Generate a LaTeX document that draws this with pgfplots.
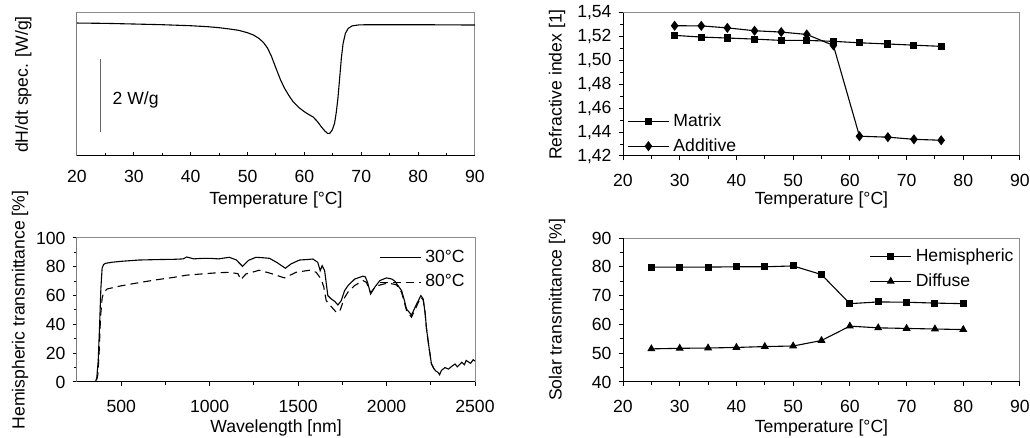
\documentclass[border=0pt]{standalone}
\usepackage{fontspec}
\setmainfont{Liberation Sans}
\usepackage{pgfplots}
\pgfplotsset{compat=1.18}
\pgfplotsset{
  longleg/.style={legend image code/.code={\draw[mark repeat=2,mark phase=2,##1] plot coordinates {(0cm,0cm) (0.36cm,0cm) (0.72cm,0cm)};}},
  myax/.style={
    scale only axis, anchor=south west,
    font=\fontsize{8.8}{10}\selectfont,
    /pgf/number format/assume math mode=true,
    /pgf/number format/set thousands separator={},
    axis line style={black!45, line width=0.5pt},
    tick style={black, line width=0.5pt},
    major tick length=2.2pt, minor tick length=1.3pt,
    xtick pos=bottom, ytick pos=left, tick align=outside,
    xticklabel style={yshift=-3.5pt},
    ylabel style={at={(axis description cs:-0.166,0.5)}, anchor=center},
    xlabel style={at={(axis description cs:0.5,-0.31)}, anchor=center},
    legend style={draw=none, fill=none, font=\fontsize{8.8}{10}\selectfont, row sep=0.6pt},
    legend cell align=left,
    every axis plot/.append style={line width=0.55pt, black},
  },
}
\begin{document}
\begin{tikzpicture}
\useasboundingbox (0pt,0pt) rectangle (515pt,-219pt);

% ---------- top left: DSC ----------
\begin{axis}[myax, at={(38.5pt,-78pt)}, width=199pt, height=71.5pt,
  xmin=20, xmax=90, ymin=0, ymax=3.945,
  xtick={20,30,...,90}, minor x tick num=1, ytick=\empty,
  tick align=inside,
  xlabel={Temperature [°C]},
  ylabel={dH/dt spec. [W/g]},
  ylabel style={at={(axis description cs:-0.135,0.5)}, anchor=center},
]
\addplot[black!60, line width=0.5pt] coordinates {(24.2,0.673) (24.2,2.673)};
\addplot[black, no marks] coordinates {
(20,3.668)(25,3.659)(30,3.641)(35,3.622)(40,3.594)(43,3.567)(45,3.539)(47,3.50)(48.5,3.465)(50,3.40)(51,3.34)(52,3.245)(52.8,3.13)(53.5,2.98)(54.2,2.75)(55,2.42)(55.8,2.10)(56.5,1.87)(57.3,1.66)(58,1.50)(59,1.34)(60,1.22)(60.7,1.15)(61.5,1.08)(62.3,0.95)(63,0.80)(63.6,0.69)(64.1,0.62)(64.5,0.63)(64.9,0.72)(65.3,0.90)(65.6,1.20)(65.9,1.60)(66.2,2.15)(66.5,2.70)(66.8,3.10)(67.2,3.38)(67.7,3.52)(68.4,3.59)(69.5,3.615)(71,3.622)(80,3.622)(90,3.613)
};
\node[anchor=west, inner sep=0pt] at (axis cs:26.2,1.55) {2 W/g};
\draw[black, line width=0.5pt] (rel axis cs:0,1) -- (rel axis cs:0,0) -- (rel axis cs:1,0);
\end{axis}

% ---------- top right: refractive index ----------
\begin{axis}[myax, at={(311.5pt,-78pt)}, width=198.5pt, height=71.5pt,
  xmin=20, xmax=90, ymin=1.42, ymax=1.54,
  xtick={20,30,...,90}, minor x tick num=1,
  ytick={1.42,1.44,1.46,1.48,1.50,1.52,1.54}, minor y tick num=1,
  yticklabel style={/pgf/number format/.cd, fixed, fixed zerofill, precision=2, use comma},
  xlabel={Temperature [°C]},
  ylabel={Refractive index [1]},
  legend style={at={(rel axis cs:-0.005,-0.045)}, anchor=south west},
]
\addplot[longleg, mark=square*, mark size=1.5pt] coordinates {
(29.1,1.5212)(33.8,1.5198)(38.4,1.5190)(43.2,1.5181)(47.9,1.5170)(52.4,1.5170)(57.1,1.5162)(61.7,1.5150)(66.7,1.5140)(71.3,1.5130)(76.1,1.5120)
};
\addlegendentry{Matrix}
\addplot[longleg, mark=diamond*, mark size=2.1pt] coordinates {
(29.1,1.5293)(33.8,1.5292)(38.4,1.5275)(43.2,1.5251)(47.9,1.5240)(52.4,1.5220)(57.1,1.5128)(61.7,1.4366)(66.7,1.4358)(71.3,1.4340)(76.1,1.4332)
};
\addlegendentry{Additive}
\draw[black, line width=0.5pt] (rel axis cs:0,1) -- (rel axis cs:0,0) -- (rel axis cs:1,0);
\end{axis}

% ---------- bottom left: spectrum ----------
\begin{axis}[myax, at={(38.5pt,-191pt)}, width=199pt, height=72pt,
  xmin=250, xmax=2500, ymin=0, ymax=100,
  xtick={500,1000,1500,2000,2500}, minor x tick num=1,
  ytick={0,20,40,60,80,100}, minor y tick num=1,
  xlabel={Wavelength [nm]},
  ylabel={Hemispheric transmittance [\%]},
  ylabel style={at={(axis description cs:-0.143,0.5)}, anchor=center},
  xlabel style={at={(axis description cs:0.5,-0.32)}, anchor=center},
  legend style={at={(rel axis cs:1.0,0.975)}, anchor=north east},
]
\addplot[longleg, black, no marks] coordinates {
(290,0)(340,0)(355,0.3)(362,3)(370,15)(378,40)(385,65)(392,79)(400,81.5)(411,82.4)(450,83.2)(500,83.8)(600,84.7)(700,85)(800,85.2)(850,85.5)(870,86.8)(890,86.2)(910,85.5)(950,85.8)(997,85.9)(1050,85.5)(1111,86.6)(1150,84.8)(1186,80.3)(1220,84.5)(1262,86.6)(1300,86.3)(1338,85.9)(1380,83)(1428,79)(1460,82)(1508,84.7)(1545,85)(1583,85.4)(1611,83.1)(1625,77.3)(1636,80.8)(1650,77.3)(1668,60)(1687,57.7)(1707,56)(1725,53.5)(1744,56.5)(1763,63.5)(1782,66.9)(1820,71.5)(1867,73.5)(1880,73)(1893,69)(1910,61.1)(1933,65.8)(1962,70.4)(1999,72.3)(2030,71.5)(2047,70)(2070,66)(2085,63.5)(2100,57)(2113,50.7)(2141,46.5)(2170,54.2)(2194,60)(2207,57.7)(2218,48)(2226,36.8)(2240,24)(2254,12.5)(2269,9)(2280,7.5)(2292,6.6)(2300,5)(2310,8)(2330,10)(2350,9)(2370,11)(2387,12.5)(2400,10.5)(2425,13.7)(2440,12)(2450,15)(2462,14)(2475,13)(2490,15.5)(2500,14.5)
};
\addlegendentry{30°C}
\addplot[longleg, black, no marks, dash pattern=on 4pt off 2.5pt] coordinates {
(290,0)(345,0)(360,1)(368,5)(375,20)(383,45)(392,58)(400,62)(420,64.6)(500,66.8)(610,69.2)(700,71)(799,72.7)(870,74.2)(900,74.5)(1026,75.7)(1111,76.2)(1160,75.2)(1177,71)(1190,73)(1205,75)(1280,77.6)(1338,75.7)(1380,74)(1423,72.3)(1489,76.2)(1564,77.6)(1602,76.2)(1630,71.5)(1645,66)(1659,56.5)(1690,52)(1716,48.4)(1735,49)(1744,52)(1760,58)(1782,62.5)(1820,67)(1867,70.4)(1886,69.2)(1910,62)(1930,65)(1952,67)(2008,68.8)(2056,67.5)(2085,62.3)(2113,49.6)(2141,45)(2160,50)(2180,55.3)(2194,58.8)(2207,57)(2218,48)(2226,36.8)(2240,24)(2254,12.5)(2269,9)
};
\addlegendentry{80°C}
\draw[black, line width=0.5pt] (rel axis cs:0,1) -- (rel axis cs:0,0) -- (rel axis cs:1,0);
\end{axis}

% ---------- bottom right: solar transmittance ----------
\begin{axis}[myax, at={(311.5pt,-191pt)}, width=198.5pt, height=72pt,
  xmin=20, xmax=90, ymin=40, ymax=90,
  xtick={20,30,...,90}, minor x tick num=1,
  ytick={40,50,...,90}, minor y tick num=1,
  xlabel={Temperature [°C]},
  ylabel={Solar transmittance [\%]},
  xlabel style={at={(axis description cs:0.5,-0.32)}, anchor=center},
  legend style={at={(rel axis cs:1.01,0.985)}, anchor=north east},
]
\addplot[longleg, mark=square*, mark size=1.5pt] coordinates {
(25,79.9)(30,79.9)(35,79.9)(40,80.0)(45,80.0)(50,80.3)(55,77.3)(60,67.2)(65,67.8)(70,67.7)(75,67.4)(80,67.2)
};
\addlegendentry{Hemispheric}
\addplot[longleg, mark=triangle*, mark size=1.8pt] coordinates {
(25,51.5)(30,51.7)(35,51.8)(40,52.0)(45,52.3)(50,52.5)(55,54.4)(60,59.4)(65,58.8)(70,58.6)(75,58.4)(80,58.2)
};
\addlegendentry{Diffuse}
\draw[black, line width=0.5pt] (rel axis cs:0,1) -- (rel axis cs:0,0) -- (rel axis cs:1,0);
\end{axis}
\end{tikzpicture}
\end{document}
